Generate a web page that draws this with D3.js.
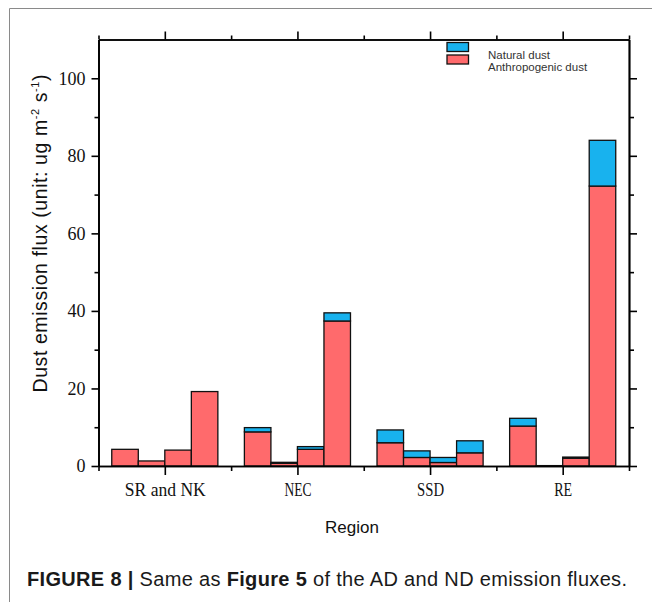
<!DOCTYPE html>
<html>
<head>
<meta charset="utf-8">
<script src="https://cdn.jsdelivr.net/npm/d3@7"></script>
<style>
body{margin:0;background:#fff;}
svg{display:block;}
</style>
</head>
<body>
<svg id="chart" width="652" height="602"></svg>
<script>
// values (ug m-2 s-1), 4 bars per region
var regions = ["SR and NK", "NEC", "SSD", "RE"];
var anthropogenic = [
    [4.3, 1.3, 4.1, 19.2],
    [8.8, 0.7, 4.3, 37.4],
    [6.0, 2.2, 0.9, 3.4],
    [10.3, 0.1, 2.0, 72.2]
];
var natural = [
    [0, 0, 0, 0],
    [1.1, 0.25, 0.7, 2.1],
    [3.3, 1.7, 1.3, 3.1],
    [2.0, 0, 0.3, 11.8]
];
var yMajor = [0, 20, 40, 60, 80, 100];
var yMinor = [10, 30, 50, 70, 90];
var xMajor = [1, 3, 5, 7];
var xMinor = [0, 2, 4, 6, 8];
var legendLabels = ["Natural dust", "Anthropogenic dust"];

var COL_ND = "#18b2ee";
var COL_AD = "#ff6a6c";

var svg = d3.select("#chart");

// outer figure frame
svg.append("path")
    .attr("d", "M9.5,602V8.5H652")
    .attr("fill", "none")
    .attr("stroke", "#8a8a8a")
    .attr("stroke-width", 1);

var PL = 98.5, PR = 629, PT = 39.5, PB = 466;

var x = d3.scaleLinear().domain([0, 8]).range([PL, PR]);
var y = d3.scaleLinear().domain([0, 110]).range([PB, PT]);

var barW = x(0.4) - x(0);

// bars
var g = svg.append("g");
regions.forEach(function(reg, i){
    anthropogenic[i].forEach(function(a, j){
        let x0 = x(2 * i + 0.2 + 0.4 * j);
        let n = natural[i][j];
        g.append("rect")
            .attr("x", x0).attr("width", barW)
            .attr("y", y(a)).attr("height", y(0) - y(a))
            .attr("fill", COL_AD).attr("stroke", "#111").attr("stroke-width", 1.3);
        if(n > 0){
            g.append("rect")
                .attr("x", x0).attr("width", barW)
                .attr("y", y(a + n)).attr("height", y(a) - y(a + n))
                .attr("fill", COL_ND).attr("stroke", "#111").attr("stroke-width", 1.3);
        }
    });
});

function styleAxis(sel){
    sel.selectAll("path").attr("stroke", "#000").attr("stroke-width", 1.7);
    sel.selectAll("line").attr("stroke", "#000").attr("stroke-width", 1.6);
}

// bottom axis
var bMajor = svg.append("g").attr("transform", "translate(0," + PB + ")")
    .call(d3.axisBottom(x).tickValues(xMajor).tickSize(9).tickSizeOuter(0).tickPadding(8)
        .tickFormat(function(d){ return regions[(d - 1) / 2]; }));
bMajor.selectAll("text")
    .attr("font-family", "'Liberation Serif', 'DejaVu Serif', serif")
    .attr("font-size", 18).attr("fill", "#111")
    .attr("textLength", function(d){ return regions[(d - 1) / 2].length * 9; })
    .attr("lengthAdjust", "spacingAndGlyphs");
styleAxis(bMajor);
var bMinor = svg.append("g").attr("transform", "translate(0," + PB + ")")
    .call(d3.axisBottom(x).tickValues(xMinor).tickSize(5).tickSizeOuter(0).tickFormat(""));
styleAxis(bMinor);

// top axis
var tMajor = svg.append("g").attr("transform", "translate(0," + PT + ")")
    .call(d3.axisTop(x).tickValues(xMajor).tickSize(8).tickSizeOuter(0).tickFormat(""));
styleAxis(tMajor);
var tMinor = svg.append("g").attr("transform", "translate(0," + PT + ")")
    .call(d3.axisTop(x).tickValues(xMinor).tickSize(4).tickSizeOuter(0).tickFormat(""));
styleAxis(tMinor);

// left axis
var lMajor = svg.append("g").attr("transform", "translate(" + PL + ",0)")
    .call(d3.axisLeft(y).tickValues(yMajor).tickSize(7).tickSizeOuter(0).tickPadding(6));
lMajor.selectAll("text")
    .attr("font-family", "'Liberation Serif', 'DejaVu Serif', serif")
    .attr("font-size", 18).attr("fill", "#111");
styleAxis(lMajor);
var lMinor = svg.append("g").attr("transform", "translate(" + PL + ",0)")
    .call(d3.axisLeft(y).tickValues(yMinor).tickSize(4).tickSizeOuter(0).tickFormat(""));
styleAxis(lMinor);

// right axis
var rMajor = svg.append("g").attr("transform", "translate(" + PR + ",0)")
    .call(d3.axisRight(y).tickValues(yMajor).tickSize(8).tickSizeOuter(0).tickFormat(""));
styleAxis(rMajor);
var rMinor = svg.append("g").attr("transform", "translate(" + PR + ",0)")
    .call(d3.axisRight(y).tickValues(yMinor).tickSize(5).tickSizeOuter(0).tickFormat(""));
styleAxis(rMinor);

// axis titles
var yTitle = svg.append("text")
    .attr("transform", "translate(47,233.5) rotate(-90)")
    .attr("text-anchor", "middle")
    .attr("font-family", "'Liberation Sans', Arial, sans-serif")
    .attr("font-size", 19.5).attr("fill", "#111")
    .attr("textLength", 318).attr("lengthAdjust", "spacing");
yTitle.append("tspan").text("Dust emission flux (unit: ug m");
yTitle.append("tspan").attr("font-size", 11).attr("dy", -8).text("-2");
yTitle.append("tspan").attr("dy", 8).text(" s");
yTitle.append("tspan").attr("font-size", 11).attr("dy", -8).text("-1");
yTitle.append("tspan").attr("dy", 8).text(")");

svg.append("text")
    .attr("x", 352).attr("y", 533)
    .attr("text-anchor", "middle")
    .attr("font-family", "'Liberation Sans', Arial, sans-serif")
    .attr("font-size", 17).attr("fill", "#111")
    .text("Region");

// legend
var legColors = [COL_ND, COL_AD];
var legY = [42.5, 55];
legendLabels.forEach(function(lbl, k){
    svg.append("rect")
        .attr("x", 447).attr("y", legY[k]).attr("width", 21.5).attr("height", 9)
        .attr("fill", legColors[k]).attr("stroke", "#111").attr("stroke-width", 1.3);
    svg.append("text")
        .attr("x", 488).attr("y", 58.5 + 12.5 * k)
        .attr("font-family", "'Liberation Sans', Arial, sans-serif")
        .attr("font-size", 11.5).attr("fill", "#333")
        .text(lbl);
});

// caption
var cap = svg.append("text")
    .attr("x", 27).attr("y", 586)
    .attr("font-family", "'Liberation Sans', Arial, sans-serif")
    .attr("font-size", 20).attr("fill", "#1a1a1a")
    .attr("textLength", 600).attr("lengthAdjust", "spacing");
cap.append("tspan").attr("font-weight", "bold").text("FIGURE 8 |");
cap.append("tspan").text(" Same as ");
cap.append("tspan").attr("font-weight", "bold").text("Figure 5");
cap.append("tspan").text(" of the AD and ND emission fluxes.");
</script>
</body>
</html>
